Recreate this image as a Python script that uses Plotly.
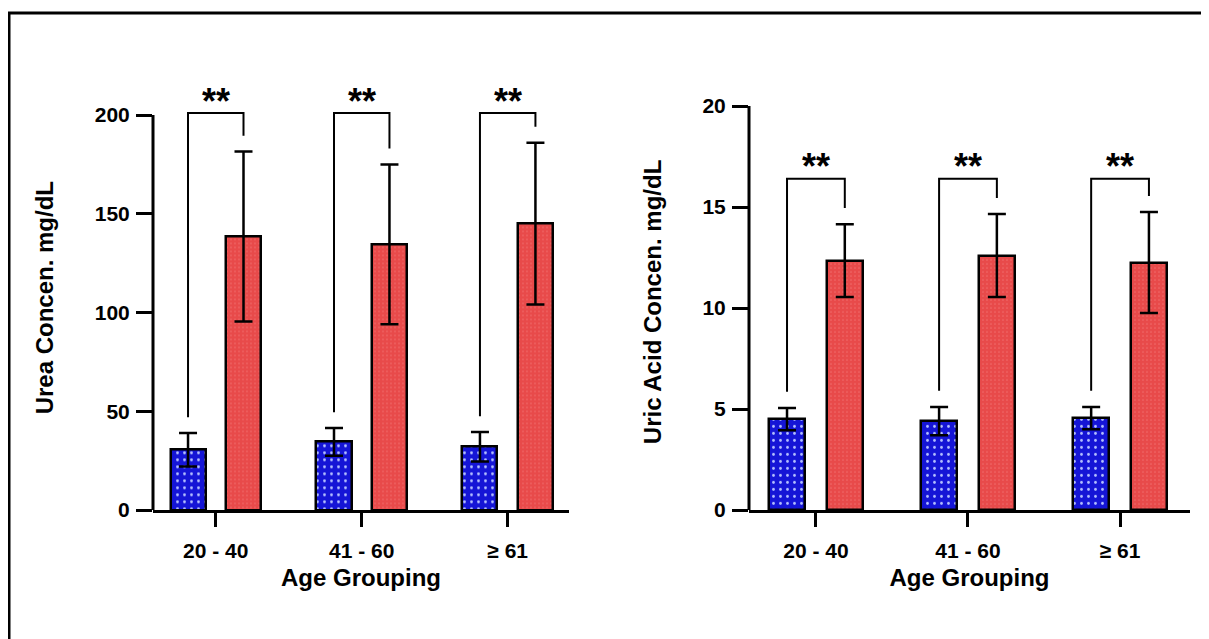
import plotly.graph_objects as go

# ---------------- data ----------------
age_groups = ["20 - 40", "41 - 60", "\u2265 61"]

urea_blue_mean = [30.5, 34.5, 32.0]
urea_blue_sd = [8.5, 7.0, 7.5]
urea_red_mean = [138.5, 134.5, 145.0]
urea_red_sd = [43.0, 40.5, 41.0]

uric_blue_mean = [4.5, 4.4, 4.55]
uric_blue_sd = [0.55, 0.7, 0.55]
uric_red_mean = [12.35, 12.6, 12.25]
uric_red_sd = [1.8, 2.05, 2.5]

sig_labels = ["**", "**", "**"]

# ---------------- style ----------------
FONT = "Liberation Sans, Arial, sans-serif"
BLUE_BG = "#1515d6"
BLUE_FG = "#b4c0ff"
RED_BG = "#e84a4a"
RED_FG = "#ef6a6a"
BAR_W = 0.24
OFF_BLUE = -0.19
OFF_RED = 0.19

PAGE_OFF = 8  # default body margin of the html page
W = 1209 - PAGE_OFF
H = 639 - PAGE_OFF
y_bottom_px = 510


def paper_y(px):
    return 1 - (px - PAGE_OFF) / H


def paper_x(px):
    return (px - PAGE_OFF) / W


fig = go.Figure()

xs = list(range(len(age_groups)))


def add_panel(xa, ya, bm, bs, rm, rs):
    fig.add_trace(go.Bar(
        x=xs, y=bm, xaxis=xa, yaxis=ya, width=BAR_W, offset=OFF_BLUE - BAR_W / 2,
        marker=dict(color=BLUE_BG, line=dict(color="black", width=2.5),
                    pattern=dict(shape=".", fgcolor=BLUE_FG, bgcolor=BLUE_BG, size=7, solidity=0.13)),
        error_y=dict(type="data", array=bs, visible=True, color="black", thickness=2.5, width=9),
        showlegend=False))
    fig.add_trace(go.Bar(
        x=xs, y=rm, xaxis=xa, yaxis=ya, width=BAR_W, offset=OFF_RED - BAR_W / 2,
        marker=dict(color=RED_BG, line=dict(color="black", width=2.5),
                    pattern=dict(shape=".", fgcolor=RED_FG, bgcolor=RED_BG, size=4, solidity=0.15)),
        error_y=dict(type="data", array=rs, visible=True, color="black", thickness=2.5, width=9),
        showlegend=False))


add_panel("x", "y", urea_blue_mean, urea_blue_sd, urea_red_mean, urea_red_sd)
add_panel("x2", "y2", uric_blue_mean, uric_blue_sd, uric_red_mean, uric_red_sd)

# ---------------- axes ----------------
left_range = [0, 215]
left_ppu = 1.975
right_range = [0, 20.6]
right_ppu = 20.2

left_top_px = y_bottom_px - left_range[1] * left_ppu
right_top_px = y_bottom_px - right_range[1] * right_ppu

tickfont = dict(family=FONT, size=21, color="black", weight="bold")
titlefont = dict(family=FONT, size=24, color="black", weight="bold")

common_x = dict(showline=True, linecolor="black", linewidth=3, ticks="outside", ticklen=14,
                tickwidth=3, tickcolor="black", showgrid=False, zeroline=False, automargin=False,
                tickvals=xs, ticktext=age_groups, tickfont=tickfont, ticklabelstandoff=6,
                title=dict(text="Age Grouping", font=titlefont, standoff=8))
common_y = dict(showline=False, ticks="outside", ticklen=16, tickwidth=3, tickcolor="black",
                showgrid=False, zeroline=False, automargin=False, tickfont=tickfont,
                ticklabelstandoff=2)

fig.update_layout(
    template="none",
    width=W, height=H, margin=dict(l=0, r=0, t=0, b=0, pad=0), autosize=False,
    paper_bgcolor="white", plot_bgcolor="white",
    bargap=0, barmode="overlay",
    xaxis=dict(domain=[paper_x(153), paper_x(569)], range=[-0.43, 2.42], anchor="y", **common_x),
    yaxis=dict(domain=[paper_y(y_bottom_px), paper_y(left_top_px)], range=left_range, anchor="x",
               tickvals=[0, 50, 100, 150, 200],
               title=dict(text="Urea Concen. mg/dL", font=titlefont, standoff=34), **common_y),
    xaxis2=dict(domain=[paper_x(749), paper_x(1190)], range=[-0.44, 2.46], anchor="y2", **common_x),
    yaxis2=dict(domain=[paper_y(y_bottom_px), paper_y(right_top_px)], range=right_range, anchor="x2",
                tickvals=[0, 5, 10, 15, 20],
                title=dict(text="Uric Acid Concen. mg/dL", font=titlefont, standoff=34), **common_y),
)

shapes = []
annotations = []

# y axis lines only up to the last tick
shapes.append(dict(type="line", xref="x domain", yref="y", x0=0, x1=0, y0=0, y1=200,
                   line=dict(color="black", width=3)))
shapes.append(dict(type="line", xref="x2 domain", yref="y2", x0=0, x1=0, y0=0, y1=20,
                   line=dict(color="black", width=3)))


def add_brackets(xr, yr, bm, bs, rm, rs, top, gap):
    for i, lab in enumerate(sig_labels):
        xl = i + OFF_BLUE
        xr_ = i + OFF_RED
        yl = bm[i] + bs[i] + gap
        yr_ = rm[i] + rs[i] + gap
        shapes.append(dict(type="path", xref=xr, yref=yr,
                           path=f"M {xl},{yl} L {xl},{top} L {xr_},{top} L {xr_},{yr_}",
                           line=dict(color="black", width=2)))
        annotations.append(dict(x=i, y=top, xref=xr, yref=yr, text=lab, showarrow=False,
                                yanchor="middle", yshift=12,
                                font=dict(family=FONT, size=36, color="black", weight="bold")))


add_brackets("x", "y", urea_blue_mean, urea_blue_sd, urea_red_mean, urea_red_sd, 201, 8)
add_brackets("x2", "y2", uric_blue_mean, uric_blue_sd, uric_red_mean, uric_red_sd, 16.4, 0.8)

# outer frame
shapes.append(dict(type="rect", xref="paper", yref="paper", x0=paper_x(9), x1=1.02,
                   y0=-0.02, y1=paper_y(13), line=dict(color="black", width=3)))

fig.update_layout(shapes=shapes, annotations=annotations)

fig.write_html("out.html")
